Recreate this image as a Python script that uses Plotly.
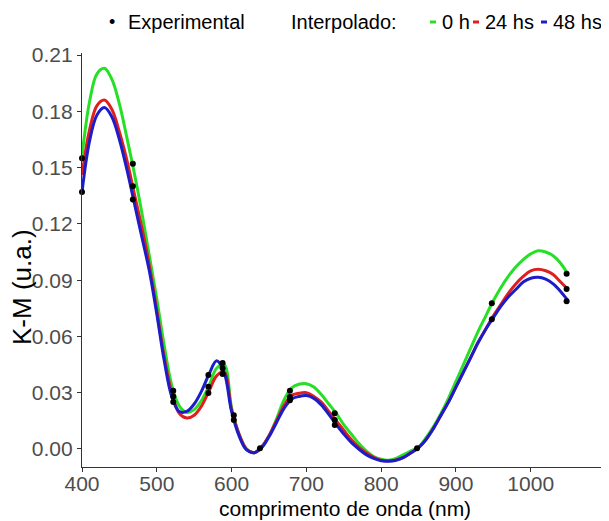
import plotly.graph_objects as go

# ---------------- data ----------------
wavelength = [400, 410, 420, 430, 440, 450, 460, 470, 480, 490, 500, 510, 520, 530, 540, 550,
              560, 570, 580, 590, 600, 610, 620, 630, 640, 650, 660, 670, 680, 690, 700, 710,
              720, 730, 740, 750, 760, 770, 780, 790, 800, 810, 820, 830, 840, 850, 860, 870,
              880, 890, 900, 910, 920, 930, 940, 950, 960, 970, 980, 990, 1000, 1010, 1020,
              1030, 1040, 1050]

interp_0h = [0.156, 0.185, 0.200, 0.203, 0.197, 0.184, 0.166, 0.147, 0.126, 0.103, 0.080, 0.055,
             0.034, 0.023, 0.0195, 0.021, 0.026, 0.034, 0.043, 0.045, 0.022, 0.008, 0.000, -0.002,
             0.001, 0.007, 0.016, 0.026, 0.0325, 0.0345, 0.0348, 0.033, 0.029, 0.024, 0.019, 0.013,
             0.008, 0.003, -0.001, -0.004, -0.0055, -0.006, -0.005, -0.003, -0.001, 0.001, 0.006,
             0.012, 0.019, 0.027, 0.036, 0.045, 0.054, 0.063, 0.071, 0.079, 0.086, 0.092, 0.097,
             0.101, 0.104, 0.1057, 0.105, 0.103, 0.099, 0.093]

interp_24h = [0.146, 0.170, 0.183, 0.186, 0.181, 0.169, 0.154, 0.136, 0.118, 0.098, 0.074, 0.049,
              0.030, 0.019, 0.0165, 0.018, 0.023, 0.031, 0.039, 0.041, 0.021, 0.008, 0.000, -0.002,
              0.001, 0.007, 0.015, 0.023, 0.0285, 0.0297, 0.030, 0.028, 0.025, 0.020, 0.015, 0.010,
              0.005, 0.001, -0.002, -0.0045, -0.006, -0.0063, -0.0058, -0.0045, -0.002, 0.0007,
              0.005, 0.011, 0.018, 0.025, 0.033, 0.041, 0.049, 0.057, 0.064, 0.071, 0.077, 0.083,
              0.088, 0.092, 0.095, 0.0958, 0.095, 0.093, 0.089, 0.085]

interp_48h = [0.137, 0.164, 0.178, 0.182, 0.177, 0.165, 0.149, 0.131, 0.113, 0.095, 0.072, 0.047,
              0.028, 0.020, 0.020, 0.024, 0.031, 0.040, 0.047, 0.041, 0.020, 0.007, -0.0005, -0.002,
              0.0005, 0.0065, 0.014, 0.0215, 0.0265, 0.028, 0.0285, 0.027, 0.0235, 0.0185, 0.013,
              0.008, 0.0035, 0.000, -0.003, -0.005, -0.0063, -0.0065, -0.006, -0.0045, -0.002,
              0.0007, 0.005, 0.011, 0.018, 0.025, 0.033, 0.041, 0.049, 0.057, 0.064, 0.070, 0.076,
              0.081, 0.085, 0.089, 0.091, 0.0915, 0.0905, 0.088, 0.084, 0.079]

exp_wavelength = [400, 400, 468, 468, 468, 522, 522, 522, 569, 569, 569, 588, 588, 588,
                  603, 603, 638, 678, 678, 678, 738, 738, 738, 848, 948, 948, 1048, 1048, 1048]
exp_values = [0.155, 0.137, 0.152, 0.140, 0.133, 0.031, 0.028, 0.025, 0.0394, 0.0332, 0.0298,
              0.0458, 0.043, 0.040, 0.018, 0.0155, 0.0004, 0.031, 0.0277, 0.026, 0.019, 0.0155,
              0.0128, 0.0004, 0.0777, 0.0691, 0.0934, 0.0853, 0.0787]

x_ticks = [400, 500, 600, 700, 800, 900, 1000]
y_ticks = [0.00, 0.03, 0.06, 0.09, 0.12, 0.15, 0.18, 0.21]
y_ticktext = ["0.00", "0.03", "0.06", "0.09", "0.12", "0.15", "0.18", "0.21"]

series_names = ["0 h", "24 hs", "48 hs"]
series_colors = ["#26e026", "#e01e1e", "#1c1cc8"]

# ---------------- figure ----------------
# the page body has an 8px margin, so the figure is shrunk by 8px and laid out accordingly
OFF = 8
W, H = 609 - OFF, 521 - OFF
PL, PR, PT, PB = 82, 607, 53, 467          # plot area edges in window pixels
L, T = PL - OFF, PT - OFF
R = W - (PR - OFF)
B = H - (PB - OFF)
pw, ph = PR - PL, PB - PT

def px_x(p):
    return (p - PL) / pw

def px_y(p):
    return (PB - p) / ph

FONT = "Liberation Sans, Arial, sans-serif"

fig = go.Figure()
for name, vals, col in zip(series_names, [interp_0h, interp_24h, interp_48h], series_colors):
    fig.add_trace(go.Scatter(x=wavelength, y=vals, mode="lines", name=name,
                             line=dict(color=col, width=3, shape="spline", smoothing=1.0),
                             showlegend=False))

fig.add_trace(go.Scatter(x=exp_wavelength, y=exp_values, mode="markers", name="Experimental",
                         marker=dict(color="black", size=6), showlegend=False, cliponaxis=False))

fig.update_layout(
    width=W, height=H,
    margin=dict(l=L, r=R, t=T, b=B),
    paper_bgcolor="white", plot_bgcolor="white",
    font=dict(family=FONT, color="black"),
    xaxis=dict(range=[400, 1102], tickvals=x_ticks, showline=True, linecolor="#333333",
               linewidth=1.2, ticks="outside", ticklen=4, tickcolor="#333333",
               ticklabelstandoff=-6,
               tickfont=dict(size=21, color="#4d4d4d"), showgrid=False, zeroline=False),
    yaxis=dict(range=[-0.0096, 0.2111], tickvals=y_ticks, ticktext=y_ticktext, showline=True,
               linecolor="#333333", linewidth=1.2, ticks="outside", ticklen=4,
               tickcolor="#333333", tickfont=dict(size=21, color="#4d4d4d"),
               showgrid=False, zeroline=False),
)

# axis titles
fig.add_annotation(text="comprimento de onda (nm)", xref="paper", yref="paper",
                   x=0.5, y=px_y(508), xanchor="center", yanchor="middle", showarrow=False,
                   font=dict(size=21, color="black"))
fig.add_annotation(text="K-M (u.a.)", xref="paper", yref="paper", textangle=-90,
                   x=px_x(22), y=px_y(287), xanchor="center", yanchor="middle", showarrow=False,
                   font=dict(size=26, color="black"))

# legend (top)
leg_y = px_y(22)
fig.add_annotation(text="•", xref="paper", yref="paper", x=px_x(112), y=leg_y,
                   xanchor="center", yanchor="middle", showarrow=False, font=dict(size=18))
fig.add_annotation(text="Experimental", xref="paper", yref="paper", x=px_x(126), y=leg_y,
                   xanchor="left", yanchor="middle", showarrow=False, font=dict(size=20))
fig.add_annotation(text="Interpolado:", xref="paper", yref="paper", x=px_x(289), y=leg_y,
                   xanchor="left", yanchor="middle", showarrow=False, font=dict(size=20))

dash_px = [433, 476, 544]
label_px = [440, 483, 551]
for name, col, dx, lx in zip(series_names, series_colors, dash_px, label_px):
    fig.add_shape(type="line", xref="paper", yref="paper", x0=px_x(dx - 3), x1=px_x(dx + 3),
                  y0=leg_y, y1=leg_y, line=dict(color=col, width=3))
    fig.add_annotation(text=name, xref="paper", yref="paper", x=px_x(lx), y=leg_y,
                       xanchor="left", yanchor="middle", showarrow=False, font=dict(size=20))

fig.write_html("out.html")
